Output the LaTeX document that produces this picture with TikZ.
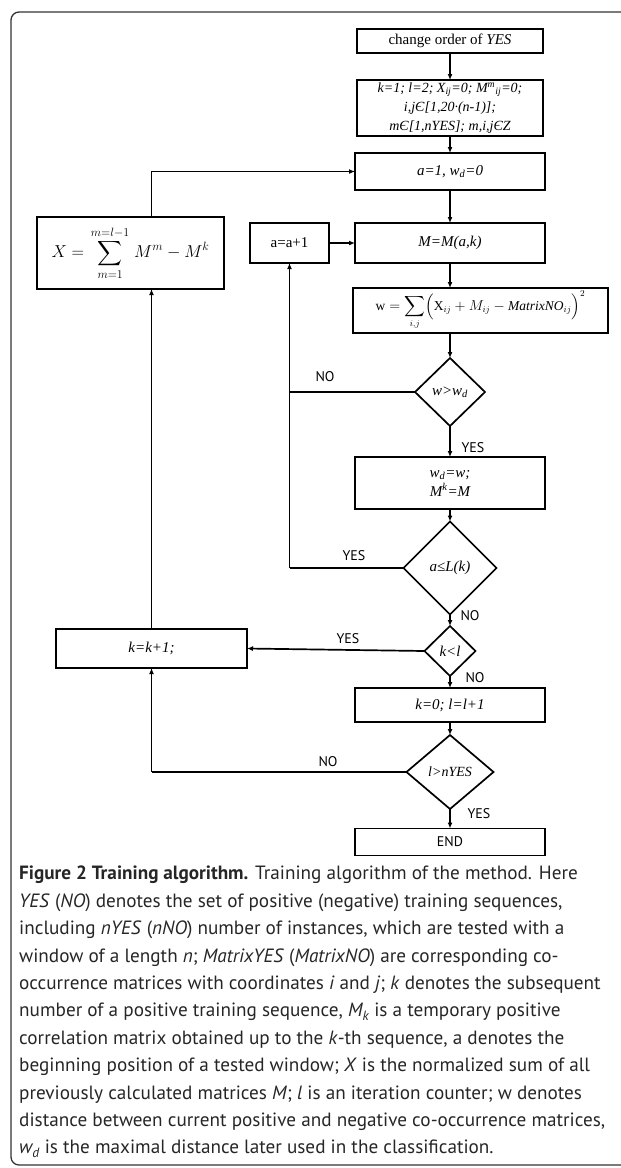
\documentclass[tikz,border=0pt]{standalone}
\usepackage{amsmath}
\usepackage{fontspec}
\setmainfont{Liberation Serif}
\newfontfamily\capfont{PT Sans}
\usetikzlibrary{arrows.meta,shapes.geometric,calc}
\begin{document}
\begin{tikzpicture}[x=1pt,y=-1pt,
  flow/.style={draw, line width=1.7pt, inner sep=1pt, outer sep=0pt, align=center, font=\fontsize{15}{19}\selectfont\itshape},
  dec/.style={draw, diamond, aspect=1, line width=1.7pt, inner sep=0pt, outer sep=0pt, font=\fontsize{15}{18}\selectfont\itshape},
  conn/.style={line width=1.7pt, -{Latex[length=6pt,width=5pt]}},
  line/.style={line width=1.7pt},
  lab/.style={font=\capfont\fontsize{14}{16}\selectfont, inner sep=0pt}]
\useasboundingbox (0,0) rectangle (621,1168);
\draw[black!80, line width=1.3pt, rounded corners=8pt] (11,12) rectangle (680,1165);

% main column
\node[flow, minimum width=186, minimum height=24, font=\fontsize{15}{18}\selectfont] (b1) at (450,41) {change order of \textit{YES}};
\node[flow, minimum width=186, minimum height=56, font=\fontsize{14}{19}\selectfont\itshape] (b2) at (450,108)
  {k=1; l=2; X\textsubscript{ij}=0; M\textsuperscript{m}\textsubscript{ij}=0;\\ i,jЄ[1,20·(n-1)];\\ mЄ[1,nYES]; m,i,jЄZ};
\node[flow, minimum width=190, minimum height=37] (b3) at (450,171.5) {a=1, w\textsubscript{d}=0};
\node[flow, minimum width=190, minimum height=40] (b4) at (450,243) {M=M(a,k)};
\node[flow, minimum width=255, minimum height=45, font=\fontsize{13.5}{16}\selectfont] (b5) at (480.5,310.5)
  {$\displaystyle \mathrm{w}=\sum_{i,j}\Bigl(\mathrm{X}_{ij}+M_{ij}-\mathit{MatrixNO}_{ij}\Bigr)^{2}$};
\node[dec, minimum width=70, minimum height=68] (d1) at (450,392) {w>w\textsubscript{d}};
\node[flow, minimum width=190, minimum height=52] (b6) at (450,483) {w\textsubscript{d}=w;\\ M\textsuperscript{k}=M};
\node[dec, minimum width=93, minimum height=93] (d2) at (450,568) {a≤L(k)};
\node[dec, minimum width=51, minimum height=50] (d3) at (450,651) {k<l};
\node[flow, minimum width=190, minimum height=34] (b7) at (450,705) {k=0; l=l+1};
\node[dec, minimum width=87, minimum height=74, font=\fontsize{14}{16}\selectfont\itshape] (d4) at (450,772) {l>nYES};
\node[flow, minimum width=190, minimum height=27, font=\capfont\fontsize{14}{16}\selectfont] (end) at (450,842) {END};

% left column
\node[flow, minimum width=79, minimum height=40, font=\fontsize{15}{18}\selectfont] (aa) at (289.5,243) {a=a+1};
\node[flow, minimum width=187, minimum height=72, font=\fontsize{18.5}{22}\selectfont] (X) at (130.5,253)
  {$\displaystyle X=\sum_{m=1}^{\,m=l-1\,}M^{m}-M^{k}$};
\node[flow, minimum width=191, minimum height=39] (kk) at (151.5,648.5) {k=k+1;};

% connectors main
\draw[conn] (b1) -- (b2);
\draw[conn] (b2) -- (b3);
\draw[conn] (b3) -- (b4);
\draw[conn] (b4.south) -- (b4.south |- b5.north);
\draw[conn] (d1.north |- b5.south) -- (d1.north);
\draw[conn] (d1) -- (b6);
\draw[conn] (b6) -- (d2);
\draw[conn] (d2) -- (d3);
\draw[conn] (d3) -- (b7);
\draw[conn] (b7) -- (d4);
\draw[conn] (d4) -- (end);

% loops
\coordinate (j1) at (aa.south |- d1.west);
\coordinate (j2) at (aa.south |- d2.west);
\draw[line] (d1.west) -- (j1);
\draw[line] (d2.west) -- (j2);
\draw[conn] (j2) -- (aa.south);
\draw[conn] (aa) -- (b4);
\draw[conn] (d3.west) -- (kk.east);
\coordinate (j3) at (kk.south |- d4.west);
\draw[line] (d4.west) -- (j3);
\draw[conn] (j3) -- (kk.south);
\draw[conn] (kk.north) -- (kk.north |- X.south);
\coordinate (j4) at (kk.north |- X.north);
\draw[conn] (j4) |- (b3.west);

% labels
\node[lab] (l1) at (325,377) {NO};
\node[lab] (l2) at (473,448) {YES};
\node[lab] (l3) at (354,556) {YES};
\node[lab] (l4) at (470,616) {NO};
\node[lab] (l5) at (348,639) {YES};
\node[lab] (l6) at (475,678) {NO};
\node[lab] (l7) at (328,762) {NO};
\node[lab] (l8) at (479,814) {YES};

% caption
\node[anchor=north west, inner sep=0pt, align=left, text=black!85,
  font=\capfont\fontsize{19.2}{27.4}\selectfont] (cap) at (19,866)
{\textbf{Figure 2 Training algorithm.} Training algorithm of the method. Here\\
\textit{YES} (\textit{NO}) denotes the set of positive (negative) training sequences,\\
including \textit{nYES} (\textit{nNO}) number of instances, which are tested with a\\
window of a length \textit{n}; \textit{MatrixYES} (\textit{MatrixNO}) are corresponding co-\\
occurrence matrices with coordinates \textit{i} and \textit{j}; \textit{k} denotes the subsequent\\
number of a positive training sequence, \textit{M\textsubscript{k}} is a temporary positive\\
correlation matrix obtained up to the \textit{k}-th sequence, a denotes the\\
beginning position of a tested window; \textit{X} is the normalized sum of all\\
previously calculated matrices \textit{M}; \textit{l} is an iteration counter; w denotes\\
distance between current positive and negative co-occurrence matrices,\\
\textit{w\textsubscript{d}} is the maximal distance later used in the classification.};
\end{tikzpicture}
\end{document}
